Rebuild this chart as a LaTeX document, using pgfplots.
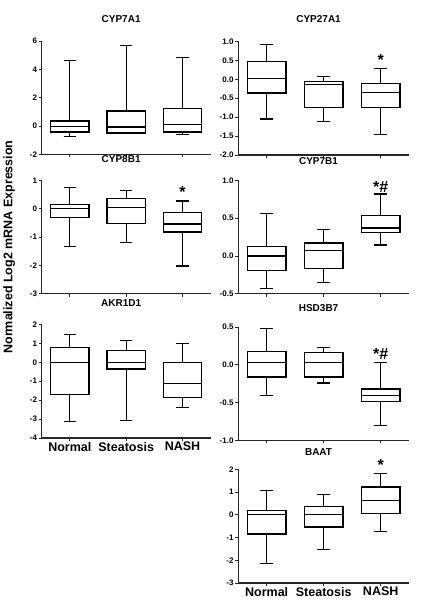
\documentclass[border=0pt]{standalone}
\usepackage{pgfplots}
\pgfplotsset{compat=1.18}
\usepgfplotslibrary{statistics}
\usepackage{fontspec}
\setmainfont{Liberation Sans}
\newcommand{\bx}[6]{\addplot[black, line width=1.2pt, fill=white, boxplot prepared={draw position=#1, lower whisker=#2, lower quartile=#3, median=#4, upper quartile=#5, upper whisker=#6, box extend=0.68, whisker extend=0.22}] coordinates {};}
\pgfplotsset{
  panel/.style={
    scale only axis, height=113.5pt, xmin=0.5, xmax=3.5,
    xtick={1,2,3}, xticklabels={},
    axis x line*=bottom, axis y line*=left,
    axis line style={-, line width=1.2pt, black!85},
    tick style={line width=0.9pt, black!85},
    tick align=outside, major tick length=3pt,
    minor tick num=0,
    /pgf/number format/assume math mode=true,
    yticklabel style={font=\bfseries\fontsize{8}{9}\selectfont, inner sep=1.5pt},
    xticklabel style={font=\bfseries\fontsize{12.5}{14}\selectfont, inner sep=1pt},
    title style={font=\bfseries\fontsize{10}{12}\selectfont, at={(0.47,1)}, anchor=center},
    clip=false,
    boxplot/draw direction=y,
    anchor=north west,
  },
  dec/.style={yticklabel style={/pgf/number format/fixed, /pgf/number format/fixed zerofill, /pgf/number format/precision=1}},
}
\tikzset{mk/.style={font=\bfseries\fontsize{16}{16}\selectfont, inner sep=0pt}}
\begin{document}
\begin{tikzpicture}
\path (0,0) rectangle (423pt,609pt);
\node[rotate=90, font=\bfseries\fontsize{12.5}{14}\selectfont] at (7pt,362pt) {Normalized Log2 mRNA Expression};
% CYP7A1
\begin{axis}[panel, at={(39.5pt,568pt)}, width=169pt, ymin=-2, ymax=6, ytick={-2,0,2,4,6}, title={CYP7A1}, title style={yshift=16pt}]
\bx{1}{-0.75}{-0.42}{0.0}{0.36}{4.6}
\bx{2}{-0.5}{-0.49}{-0.06}{1.07}{5.66}
\bx{3}{-0.58}{-0.42}{0.1}{1.24}{4.86}
\end{axis}
% CYP27A1
\begin{axis}[panel, dec, at={(236pt,567.5pt)}, width=171pt, ymin=-2, ymax=1, ytick={-2,-1.5,-1,-0.5,0,0.5,1}, title={CYP27A1}, title style={yshift=16pt}]
\bx{1}{-1.05}{-0.36}{0.03}{0.48}{0.91}
\bx{2}{-1.12}{-0.75}{-0.13}{-0.06}{0.07}
\bx{3}{-1.46}{-0.75}{-0.35}{-0.12}{0.28}
\node[mk] at (axis cs:3,0.50) {*};
\end{axis}
% CYP8B1
\begin{axis}[panel, at={(39.5pt,428.7pt)}, width=169pt, ymin=-3, ymax=1, ytick={-3,-2,-1,0,1}, title={CYP8B1}, title style={yshift=15.6pt}]
\bx{1}{-1.34}{-0.3}{0.0}{0.16}{0.74}
\bx{2}{-1.2}{-0.52}{0.05}{0.35}{0.63}
\bx{3}{-2.02}{-0.82}{-0.54}{-0.13}{0.27}
\node[mk] at (axis cs:3,0.58) {*};
\end{axis}
% CYP7B1
\begin{axis}[panel, dec, at={(236pt,428.7pt)}, width=171pt, ymin=-0.5, ymax=1, ytick={-0.5,0,0.5,1}, title={CYP7B1}, title style={yshift=13pt}]
\bx{1}{-0.43}{-0.19}{0.0}{0.12}{0.557}
\bx{2}{-0.355}{-0.17}{0.075}{0.17}{0.35}
\bx{3}{0.145}{0.31}{0.37}{0.53}{0.82}
\node[mk] at (axis cs:3,0.91) {*\#};
\end{axis}
% AKR1D1
\begin{axis}[panel, at={(39.5pt,284.5pt)}, width=169pt, ymin=-4, ymax=2, ytick={-4,-3,-2,-1,0,1,2}, xticklabels={Normal,Steatosis,NASH}, title={AKR1D1}, title style={yshift=15pt}]
\bx{1}{-3.14}{-1.7}{0.0}{0.79}{1.49}
\bx{2}{-3.09}{-0.35}{0.0}{0.61}{1.14}
\bx{3}{-2.37}{-1.86}{-1.12}{0.0}{1.0}
\end{axis}
% HSD3B7
\begin{axis}[panel, dec, at={(236pt,282pt)}, width=171pt, ymin=-1, ymax=0.5, ytick={-1,-0.5,0,0.5}, title={HSD3B7}, title style={yshift=13pt}]
\bx{1}{-0.41}{-0.16}{0.035}{0.18}{0.48}
\bx{2}{-0.24}{-0.16}{0.035}{0.16}{0.23}
\bx{3}{-0.8}{-0.48}{-0.41}{-0.32}{0.035}
\node[mk] at (axis cs:3,0.14) {*\#};
\end{axis}
% BAAT
\begin{axis}[panel, at={(236pt,139.5pt)}, width=171pt, ymin=-3, ymax=2, ytick={-3,-2,-1,0,1,2}, xticklabels={Normal,Steatosis,NASH}, title={BAAT}, title style={yshift=11.7pt}]
\bx{1}{-2.13}{-0.84}{0.0}{0.19}{1.09}
\bx{2}{-1.51}{-0.53}{0.0}{0.37}{0.89}
\bx{3}{-0.74}{0.06}{0.65}{1.23}{1.82}
\node[mk] at (axis cs:3,2.18) {*};
\end{axis}
\end{tikzpicture}
\end{document}
